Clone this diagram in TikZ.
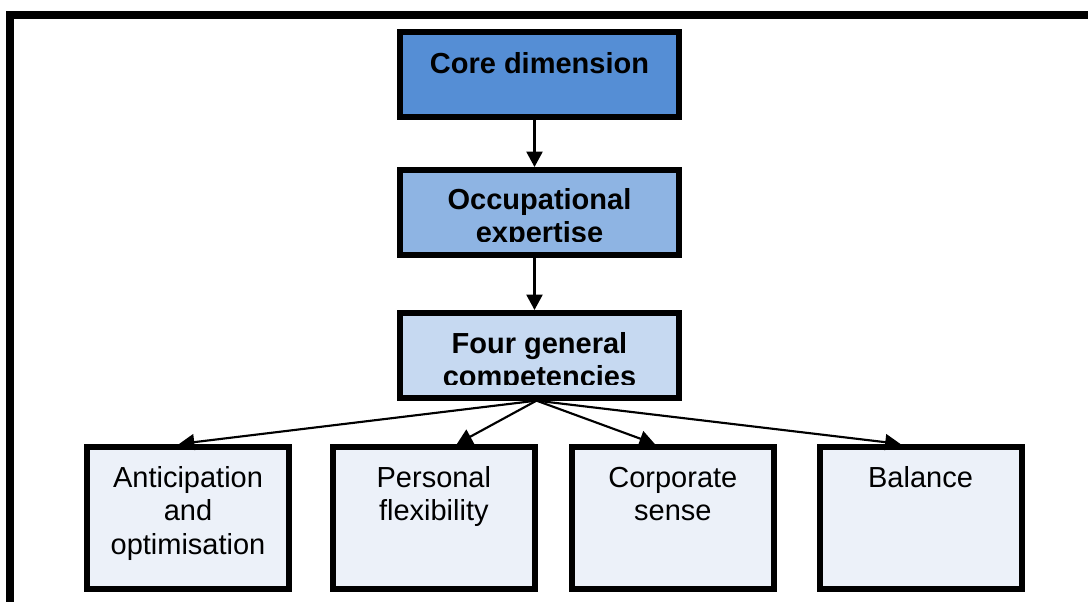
\documentclass[tikz,border=0pt]{standalone}
\usepackage{fontspec}
\setmainfont{Liberation Sans}
\usetikzlibrary{arrows.meta,calc}
\definecolor{coreblue}{RGB}{85,142,213}
\definecolor{occblue}{RGB}{142,180,227}
\definecolor{fourblue}{RGB}{198,217,241}
\definecolor{leafblue}{RGB}{236,241,249}
\begin{document}
\begin{tikzpicture}[x=0.75pt,y=-0.75pt,
  box/.style={draw=black,line width=4.5pt,inner sep=0pt,
    minimum width=209.25pt,minimum height=63.75pt},
  leaf/.style={box,fill=leafblue,minimum width=151.5pt,minimum height=106.3pt},
  headtxt/.style={font=\fontsize{21.75pt}{24.75pt}\selectfont\bfseries,
    inner sep=0pt,anchor=base},
  leaftxt/.style={font=\fontsize{21.75pt}{25.1pt}\selectfont,
    inner sep=0pt,anchor=base},
  conn/.style={line width=1.6pt,-{Triangle[length=11.5pt,width=12pt]}}
]
\useasboundingbox (0,0) rectangle (1088,601);
\clip (0,0) rectangle (1088,601);
\fill[white] (0,0) rectangle (1088,601);
% outer frame (continues beyond the picture)
\draw[line width=6pt] (9.5,640) -- (9.5,14.5) -- (1120,14.5);

% top column
\node[box,fill=coreblue] (core) at (539.5,74.5) {};
\node[box,fill=occblue,minimum height=63.4pt] (occ) at (539.5,212.25) {};
\node[box,fill=fourblue,minimum height=63.5pt] (four) at (539.5,355.3) {};

% bottom row
\node[leaf] (ant) at (188,517.85) {};
\node[leaf] (pers) at (433.85,517.85) {};
\node[leaf] (corp) at (672.85,517.85) {};
\node[leaf] (bal) at (920.5,517.85) {};

% texts
\node[headtxt] (coretxt) at ($(core.north)+(0,44)$)
  {\parbox[t]{200pt}{\centering Core dimension}};
\begin{scope}
  \clip (occ.north west) rectangle ($(occ.south east)+(0,-16)$);
  \node[headtxt] (occtxt) at ($(occ.north)+(0,42.5)$)
    {\parbox[t]{200pt}{\centering Occupational\\expertise}};
\end{scope}
\begin{scope}
  \clip (four.north west) rectangle ($(four.south east)+(0,-16)$);
  \node[headtxt] (fourtxt) at ($(four.north)+(0,43.3)$)
    {\parbox[t]{200pt}{\centering Four general\\competencies}};
\end{scope}
\node[leaftxt] (anttxt) at ($(ant.north)+(0,43.5)$)
  {\parbox[t]{145pt}{\centering Anticipation\\and\\optimisation}};
\node[leaftxt] (perstxt) at ($(pers.north)+(0,43.5)$)
  {\parbox[t]{145pt}{\centering Personal\\flexibility}};
\node[leaftxt] (corptxt) at ($(corp.north)+(0,43.5)$)
  {\parbox[t]{145pt}{\centering Corporate\\sense}};
\node[leaftxt] (baltxt) at ($(bal.north)+(0,43.5)$)
  {\parbox[t]{145pt}{\centering Balance}};

% connectors
\draw[conn] ($(core.south)+(-5,0)$) -- ($(occ.north)+(-5,0)$);
\draw[conn] ($(occ.south)+(-5,0)$) -- ($(four.north)+(-5,0)$);
\draw[conn] ($(four.south)+(-3,0)$) -- ($(ant.north)+(-9,0)$);
\draw[conn] ($(four.south)+(-3,0)$) -- ($(pers.north)+(23,0)$);
\draw[conn] ($(four.south)+(-3,0)$) -- ($(corp.north)+(-18,0)$);
\draw[conn] ($(four.south)+(-3,0)$) -- ($(bal.north)+(-20,0)$);
\end{tikzpicture}
\end{document}
